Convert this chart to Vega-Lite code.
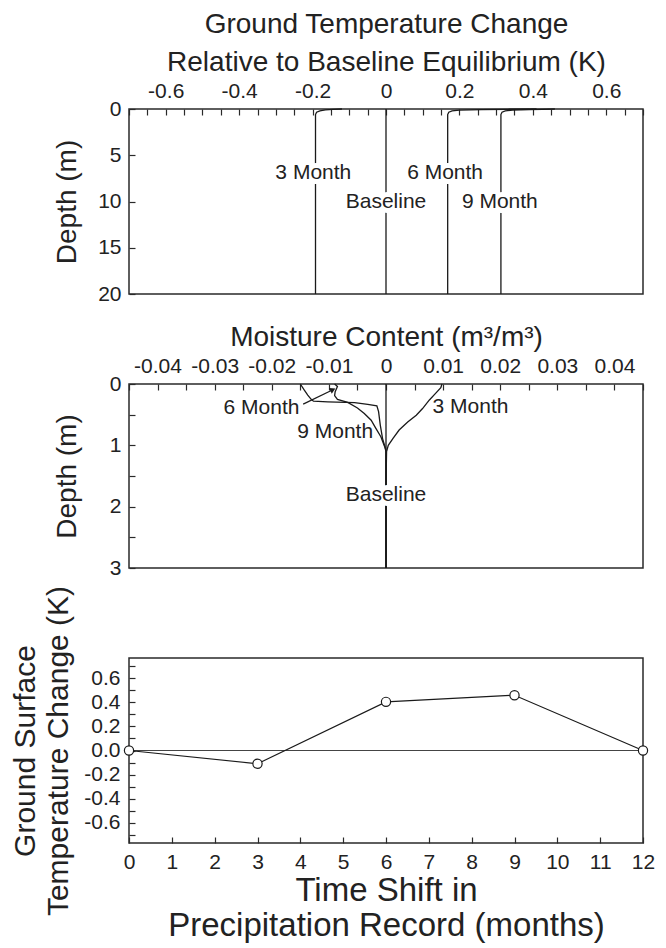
{
  "$schema": "https://vega.github.io/schema/vega-lite/v6.json",
  "padding": {"left": 10, "top": 9, "right": 6, "bottom": 0},
  "spacing": 90,
  "bounds": "flush",
  "config": {
    "font": "Liberation Sans",
    "locale": {"number": {"decimal": ".", "thousands": ",", "grouping": [3], "currency": ["$", ""], "minus": "-"}},
    "view": {"stroke": "#2a2a2a", "strokeWidth": 1.5},
    "axis": {
      "grid": false, "domain": false, "tickColor": "#2a2a2a", "tickSize": -6, "tickWidth": 1.2,
      "labelFontSize": 21, "labelColor": "#222", "labelPadding": 14, "labelFlush": false,
      "labelOverlap": false, "labelBound": false,
      "titleFontSize": 28, "titleFontWeight": "normal", "titleColor": "#222"
    }
  },
  "datasets": {
    "temp": [
      {"s": "3 Month", "d": 20, "t": -0.192}, {"s": "3 Month", "d": 0.6, "t": -0.192}, {"s": "3 Month", "d": 0.35, "t": -0.189},
      {"s": "3 Month", "d": 0.2, "t": -0.18}, {"s": "3 Month", "d": 0.1, "t": -0.165}, {"s": "3 Month", "d": 0.04, "t": -0.145},
      {"s": "3 Month", "d": 0, "t": -0.12},
      {"s": "6 Month", "d": 20, "t": 0.168}, {"s": "6 Month", "d": 0.6, "t": 0.168}, {"s": "6 Month", "d": 0.35, "t": 0.171},
      {"s": "6 Month", "d": 0.2, "t": 0.18}, {"s": "6 Month", "d": 0.12, "t": 0.2}, {"s": "6 Month", "d": 0.07, "t": 0.26},
      {"s": "6 Month", "d": 0.03, "t": 0.33}, {"s": "6 Month", "d": 0, "t": 0.41},
      {"s": "9 Month", "d": 20, "t": 0.313}, {"s": "9 Month", "d": 0.6, "t": 0.313}, {"s": "9 Month", "d": 0.35, "t": 0.316},
      {"s": "9 Month", "d": 0.2, "t": 0.325}, {"s": "9 Month", "d": 0.12, "t": 0.345}, {"s": "9 Month", "d": 0.06, "t": 0.39},
      {"s": "9 Month", "d": 0, "t": 0.46},
      {"s": "Baseline", "d": 20, "t": 0}, {"s": "Baseline", "d": 0, "t": 0}
    ],
    "tlabels": [
      {"text": "3 Month", "t": -0.198, "d": 6.9},
      {"text": "6 Month", "t": 0.161, "d": 6.9},
      {"text": "Baseline", "t": 0, "d": 10.0},
      {"text": "9 Month", "t": 0.31, "d": 10.0}
    ],
    "moist": [
      {"s": "Baseline", "d": 0, "m": 0}, {"s": "Baseline", "d": 3, "m": 0},
      {"s": "3 Month", "d": 0, "m": 0.0098}, {"s": "3 Month", "d": 0.06, "m": 0.0096}, {"s": "3 Month", "d": 0.14, "m": 0.0088},
      {"s": "3 Month", "d": 0.26, "m": 0.0076}, {"s": "3 Month", "d": 0.4, "m": 0.0064}, {"s": "3 Month", "d": 0.51, "m": 0.0053},
      {"s": "3 Month", "d": 0.62, "m": 0.0038}, {"s": "3 Month", "d": 0.75, "m": 0.0023}, {"s": "3 Month", "d": 0.89, "m": 0.0012},
      {"s": "3 Month", "d": 1.0, "m": 0.0004}, {"s": "3 Month", "d": 1.1, "m": 0.0001}, {"s": "3 Month", "d": 1.6, "m": 0}, {"s": "3 Month", "d": 3, "m": 0},
      {"s": "6 Month", "d": 0, "m": -0.009}, {"s": "6 Month", "d": 0.04, "m": -0.0085}, {"s": "6 Month", "d": 0.125, "m": -0.0089},
      {"s": "6 Month", "d": 0.19, "m": -0.009}, {"s": "6 Month", "d": 0.25, "m": -0.0085}, {"s": "6 Month", "d": 0.3, "m": -0.0067},
      {"s": "6 Month", "d": 0.39, "m": -0.005}, {"s": "6 Month", "d": 0.48, "m": -0.0038}, {"s": "6 Month", "d": 0.59, "m": -0.0026},
      {"s": "6 Month", "d": 0.72, "m": -0.0018}, {"s": "6 Month", "d": 0.86, "m": -0.0009}, {"s": "6 Month", "d": 1.03, "m": -0.0002},
      {"s": "6 Month", "d": 1.1, "m": 0}, {"s": "6 Month", "d": 3, "m": 0},
      {"s": "9 Month", "d": 0, "m": -0.015}, {"s": "9 Month", "d": 0.1, "m": -0.0143}, {"s": "9 Month", "d": 0.18, "m": -0.0137},
      {"s": "9 Month", "d": 0.25, "m": -0.0131}, {"s": "9 Month", "d": 0.28, "m": -0.0127}, {"s": "9 Month", "d": 0.29, "m": -0.0102},
      {"s": "9 Month", "d": 0.305, "m": -0.0055}, {"s": "9 Month", "d": 0.333, "m": -0.0032}, {"s": "9 Month", "d": 0.355, "m": -0.0016},
      {"s": "9 Month", "d": 0.45, "m": -0.0013}, {"s": "9 Month", "d": 0.67, "m": -0.001}, {"s": "9 Month", "d": 0.89, "m": -0.0006},
      {"s": "9 Month", "d": 1.05, "m": -0.0001}, {"s": "9 Month", "d": 1.1, "m": 0}, {"s": "9 Month", "d": 3, "m": 0}
    ],
    "mlabels": [
      {"text": "6 Month", "m": -0.0218, "d": 0.39},
      {"text": "9 Month", "m": -0.0089, "d": 0.775},
      {"text": "3 Month", "m": 0.0148, "d": 0.37},
      {"text": "Baseline", "m": 0, "d": 1.81}
    ],
    "arrow": [{"m": -0.0145, "d": 0.328, "m2": -0.0093, "d2": 0.093}],
    "surface": [
      {"shift": 0, "dT": 0}, {"shift": 3, "dT": -0.11}, {"shift": 6, "dT": 0.405}, {"shift": 9, "dT": 0.46}, {"shift": 12, "dT": 0}
    ]
  },
  "vconcat": [
    {
      "width": 514, "height": 185,
      "layer": [
        {
          "data": {"name": "temp"},
          "mark": {"type": "line", "color": "#1a1a1a", "strokeWidth": 1.3},
          "encoding": {
            "x": {"field": "t", "type": "quantitative",
              "scale": {"domain": [-0.7, 0.7], "nice": false, "zero": false},
              "axis": {"orient": "top", "title": ["Ground Temperature Change", "Relative to Baseline Equilibrium (K)"],
                "titleLineHeight": 38, "titlePadding": 4, "format": ".1~f", "labelOverlap": false, "tickCount": 100,
                "values": [-0.7,-0.65,-0.6,-0.55,-0.5,-0.45,-0.4,-0.35,-0.3,-0.25,-0.2,-0.15,-0.1,-0.05,0,0.05,0.1,0.15,0.2,0.25,0.3,0.35,0.4,0.45,0.5,0.55,0.6,0.65,0.7],
                "labelExpr": "abs(datum.value) == 0.6 || abs(datum.value) == 0.4 || abs(datum.value) == 0.2 || datum.value == 0 ? datum.label : ''"}},
            "y": {"field": "d", "type": "quantitative",
              "scale": {"domain": [0, 20], "nice": false, "reverse": true},
              "axis": {"title": "Depth (m)", "values": [0, 5, 10, 15, 20], "tickCount": 100, "titlePadding": 16, "format": "d", "labelOverlap": false}},
            "detail": {"field": "s"},
            "order": {"field": "d", "type": "quantitative"}
          }
        },
        {
          "data": {"name": "tlabels"},
          "mark": {"type": "text", "fontSize": 21, "fill": "white", "stroke": "white", "strokeWidth": 10, "strokeJoin": "round"},
          "encoding": {"x": {"field": "t", "type": "quantitative"}, "y": {"field": "d", "type": "quantitative"}, "text": {"field": "text"}}
        },
        {
          "data": {"name": "tlabels"},
          "mark": {"type": "text", "fontSize": 21, "color": "#222"},
          "encoding": {"x": {"field": "t", "type": "quantitative"}, "y": {"field": "d", "type": "quantitative"}, "text": {"field": "text"}}
        }
      ]
    },
    {
      "width": 514, "height": 184,
      "layer": [
        {
          "data": {"name": "moist"},
          "mark": {"type": "line", "color": "#1a1a1a", "strokeWidth": 1.3},
          "encoding": {
            "x": {"field": "m", "type": "quantitative",
              "scale": {"domain": [-0.045, 0.045], "nice": false, "zero": false},
              "axis": {"orient": "top", "title": "Moisture Content (m³/m³)", "titlePadding": 4, "format": ".2~f", "labelOverlap": false, "tickCount": 100,
                "values": [-0.045,-0.04,-0.035,-0.03,-0.025,-0.02,-0.015,-0.01,-0.005,0,0.005,0.01,0.015,0.02,0.025,0.03,0.035,0.04,0.045],
                "labelExpr": "abs(datum.value) == 0.04 || abs(datum.value) == 0.03 || abs(datum.value) == 0.02 || abs(datum.value) == 0.01 || datum.value == 0 ? datum.label : ''"}},
            "y": {"field": "d", "type": "quantitative",
              "scale": {"domain": [0, 3], "nice": false, "reverse": true},
              "axis": {"title": "Depth (m)", "values": [0, 0.5, 1, 1.5, 2, 2.5, 3], "tickCount": 100, "titlePadding": 28, "format": "~g", "labelOverlap": false,
                "labelExpr": "indexof([0,1,2,3], datum.value) >= 0 ? datum.label : ''"}},
            "detail": {"field": "s"},
            "order": {"field": "d", "type": "quantitative"}
          }
        },
        {
          "data": {"name": "arrow"},
          "mark": {"type": "rule", "color": "#1a1a1a", "strokeWidth": 1.2},
          "encoding": {
            "x": {"field": "m", "type": "quantitative"}, "y": {"field": "d", "type": "quantitative"},
            "x2": {"field": "m2"}, "y2": {"field": "d2"}
          }
        },
        {
          "data": {"name": "arrow"},
          "mark": {"type": "point", "shape": "triangle-up", "filled": true, "color": "#1a1a1a", "size": 40, "angle": 64.5, "opacity": 1},
          "encoding": {"x": {"field": "m2", "type": "quantitative"}, "y": {"field": "d2", "type": "quantitative"}}
        },
        {
          "data": {"name": "mlabels"},
          "transform": [{"filter": "datum.text == 'Baseline'"}],
          "mark": {"type": "text", "fontSize": 21, "fill": "white", "stroke": "white", "strokeWidth": 10, "strokeJoin": "round"},
          "encoding": {"x": {"field": "m", "type": "quantitative"}, "y": {"field": "d", "type": "quantitative"}, "text": {"field": "text"}}
        },
        {
          "data": {"name": "mlabels"},
          "mark": {"type": "text", "fontSize": 21, "color": "#222"},
          "encoding": {"x": {"field": "m", "type": "quantitative"}, "y": {"field": "d", "type": "quantitative"}, "text": {"field": "text"}}
        }
      ]
    },
    {
      "width": 514, "height": 185,
      "data": {"name": "surface"},
      "layer": [
        {
          "mark": {"type": "rule", "color": "#444", "strokeWidth": 1},
          "encoding": {"y": {"datum": 0}}
        },
        {
          "mark": {"type": "line", "color": "#1a1a1a", "strokeWidth": 1.2},
          "encoding": {
            "x": {"field": "shift", "type": "quantitative",
              "scale": {"domain": [0, 12], "nice": false},
              "axis": {"title": ["Time Shift in", "Precipitation Record (months)"], "titleFontSize": 33, "titleLineHeight": 35, "titlePadding": 2,
                "values": [0,1,2,3,4,5,6,7,8,9,10,11,12], "tickCount": 100, "labelPadding": 14, "format": "d", "labelOverlap": false}},
            "y": {"field": "dT", "type": "quantitative",
              "scale": {"domain": [-0.77, 0.77], "nice": false, "zero": false},
              "axis": {"title": ["Ground Surface", "Temperature Change (K)"], "titleFontSize": 30, "titleLineHeight": 33, "titlePadding": 10,
                "values": [-0.7,-0.6,-0.5,-0.4,-0.3,-0.2,-0.1,0,0.1,0.2,0.3,0.4,0.5,0.6,0.7], "tickCount": 100,
                "labelPadding": 15, "format": ".1f", "labelOverlap": false,
                "labelExpr": "abs(datum.value) == 0.6 || abs(datum.value) == 0.4 || abs(datum.value) == 0.2 || datum.value == 0 ? datum.label : ''"}}
          }
        },
        {
          "mark": {"type": "point", "filled": true, "fill": "white", "stroke": "#1a1a1a", "strokeWidth": 1.2, "size": 85, "opacity": 1},
          "encoding": {"x": {"field": "shift", "type": "quantitative"}, "y": {"field": "dT", "type": "quantitative"}}
        }
      ]
    }
  ]
}
